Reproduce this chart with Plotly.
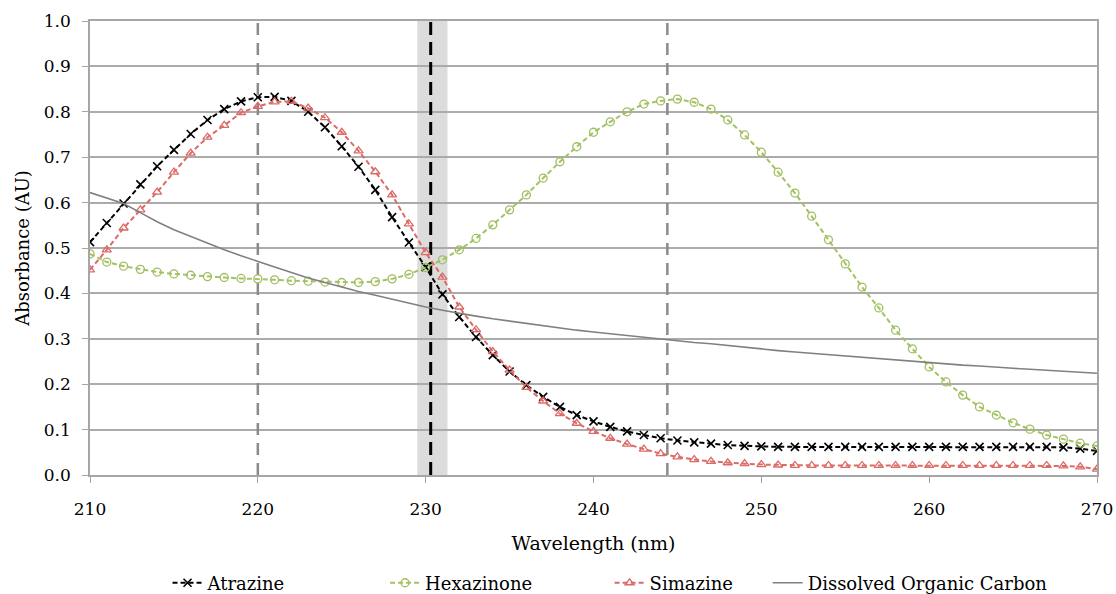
import plotly.graph_objects as go

# Wavelength grid (nm)
wavelength = list(range(210, 271))

atrazine = [
    0.513, 0.555, 0.598, 0.640, 0.680, 0.716, 0.751, 0.782, 0.806, 0.823,
    0.832, 0.833, 0.824, 0.800, 0.766, 0.724, 0.679, 0.628, 0.568, 0.512,
    0.458, 0.398, 0.348, 0.304, 0.264, 0.228, 0.198, 0.172, 0.150, 0.132,
    0.118, 0.106, 0.096, 0.088, 0.081, 0.076, 0.072, 0.069, 0.066, 0.064,
    0.063, 0.062, 0.062, 0.062, 0.062, 0.062, 0.062, 0.062, 0.062, 0.062,
    0.062, 0.062, 0.062, 0.062, 0.062, 0.062, 0.062, 0.062, 0.061, 0.058,
    0.053,
]

hexazinone = [
    0.487, 0.469, 0.460, 0.453, 0.447, 0.443, 0.440, 0.437, 0.435, 0.433,
    0.432, 0.430, 0.428, 0.427, 0.425, 0.424, 0.424, 0.426, 0.432, 0.442,
    0.457, 0.474, 0.496, 0.521, 0.551, 0.584, 0.617, 0.654, 0.690, 0.723,
    0.755, 0.778, 0.800, 0.817, 0.824, 0.828, 0.821, 0.806, 0.782, 0.749,
    0.711, 0.667, 0.621, 0.570, 0.518, 0.465, 0.414, 0.368, 0.319, 0.278,
    0.238, 0.205, 0.176, 0.150, 0.132, 0.115, 0.101, 0.088, 0.079, 0.070,
    0.064,
]

simazine = [
    0.452, 0.496, 0.544, 0.584, 0.623, 0.667, 0.709, 0.744, 0.770, 0.798,
    0.812, 0.822, 0.823, 0.808, 0.787, 0.755, 0.714, 0.668, 0.617, 0.553,
    0.490, 0.436, 0.370, 0.320, 0.272, 0.231, 0.193, 0.163, 0.135, 0.114,
    0.096, 0.081, 0.068, 0.057, 0.047, 0.040, 0.034, 0.030, 0.027, 0.025,
    0.023, 0.022, 0.021, 0.021, 0.021, 0.021, 0.021, 0.021, 0.021, 0.021,
    0.021, 0.021, 0.021, 0.021, 0.021, 0.021, 0.021, 0.021, 0.020, 0.018,
    0.013,
]

doc = [
    0.622, 0.610, 0.598, 0.578, 0.558, 0.540, 0.525, 0.510, 0.496, 0.483,
    0.470, 0.458, 0.446, 0.434, 0.424, 0.414, 0.404, 0.396, 0.387, 0.378,
    0.370, 0.363, 0.356, 0.350, 0.344, 0.339, 0.334, 0.328, 0.323, 0.319,
    0.315, 0.311, 0.307, 0.303, 0.299, 0.296, 0.292, 0.289, 0.285, 0.281,
    0.277, 0.274, 0.271, 0.268, 0.265, 0.262, 0.259, 0.256, 0.253, 0.250,
    0.247, 0.245, 0.242, 0.240, 0.237, 0.235, 0.233, 0.231, 0.228, 0.226,
    0.224,
]

# Reference wavelengths marked on the chart
peak_lines = [220.0, 244.4]
crossover = 230.3
crossover_band = [229.5, 231.3]

FONT = "DejaVu Serif, serif"

fig = go.Figure()

fig.add_trace(go.Scatter(
    x=wavelength, y=atrazine, name="Atrazine", mode="lines+markers",
    line=dict(color="black", width=2, dash="5px,3px"),
    marker=dict(symbol="x-thin-open", size=8, color="black",
                line=dict(color="black", width=1.6)),
    legend="legend",
))
fig.add_trace(go.Scatter(
    x=wavelength, y=hexazinone, name="Hexazinone", mode="lines+markers",
    line=dict(color="#a3c264", width=2, dash="5px,3px"),
    marker=dict(symbol="circle-open", size=8, color="#9fbf5e",
                line=dict(color="#9fbf5e", width=1.3)),
    legend="legend2",
))
fig.add_trace(go.Scatter(
    x=wavelength, y=simazine, name="Simazine", mode="lines+markers",
    line=dict(color="#dc6a66", width=2, dash="5px,3px"),
    marker=dict(symbol="triangle-up-open", size=8, color="#dc6a66",
                line=dict(color="#dc6a66", width=1.3)),
    legend="legend3",
))
fig.add_trace(go.Scatter(
    x=wavelength, y=doc, name="Dissolved Organic Carbon", mode="lines",
    line=dict(color="#808080", width=1.6),
    legend="legend4",
))

shapes = [dict(type="rect", xref="x", yref="y",
               x0=crossover_band[0], x1=crossover_band[1], y0=0, y1=1,
               fillcolor="#dcdcdc", line=dict(width=0), layer="below")]
for w in peak_lines:
    shapes.append(dict(type="line", xref="x", yref="y", x0=w, x1=w, y0=0, y1=1,
                       line=dict(color="#8a8a8a", width=2.5, dash="12px,8px"),
                       layer="between"))
shapes.append(dict(type="line", xref="x", yref="y", x0=crossover, x1=crossover,
                   y0=0, y1=1,
                   line=dict(color="black", width=3, dash="13px,7px"),
                   layer="between"))

legend_common = dict(orientation="h", yanchor="middle", y=-0.238,
                     xanchor="left", bgcolor="rgba(0,0,0,0)",
                     font=dict(family=FONT, size=18, color="black"))

fig.update_layout(
    width=1116, height=594,
    margin=dict(l=90, r=19, t=21, b=119, autoexpand=False),
    paper_bgcolor="white", plot_bgcolor="white",
    font=dict(family=FONT, size=17, color="black"),
    shapes=shapes,
    showlegend=True,
    legend=dict(x=0.077, **legend_common),
    legend2=dict(x=0.293, **legend_common),
    legend3=dict(x=0.516, **legend_common),
    legend4=dict(x=0.673, **legend_common),
    xaxis=dict(
        range=[210, 270], dtick=10, tick0=210,
        showgrid=False, zeroline=False,
        showline=True, linecolor="#a6a6a6", linewidth=1.5, mirror=True,
        ticks="outside", ticklen=6, tickcolor="#a6a6a6",
        ticklabelstandoff=12,
        tickfont=dict(family=FONT, size=17, color="black"),
        title=dict(text="Wavelength (nm)", standoff=19,
                   font=dict(family=FONT, size=19, color="black")),
    ),
    yaxis=dict(
        range=[0, 1.0], dtick=0.1, tickformat=".1f",
        showgrid=True, gridcolor="#ababab", gridwidth=1.5,
        zeroline=False,
        showline=True, linecolor="#a6a6a6", linewidth=1.5, mirror=True,
        ticks="outside", ticklen=6, tickcolor="#a6a6a6",
        ticklabelstandoff=8,
        tickfont=dict(family=FONT, size=17, color="black"),
        title=dict(text="Absorbance (AU)", standoff=10,
                   font=dict(family=FONT, size=18, color="black")),
    ),
)

fig.write_html("out.html")
